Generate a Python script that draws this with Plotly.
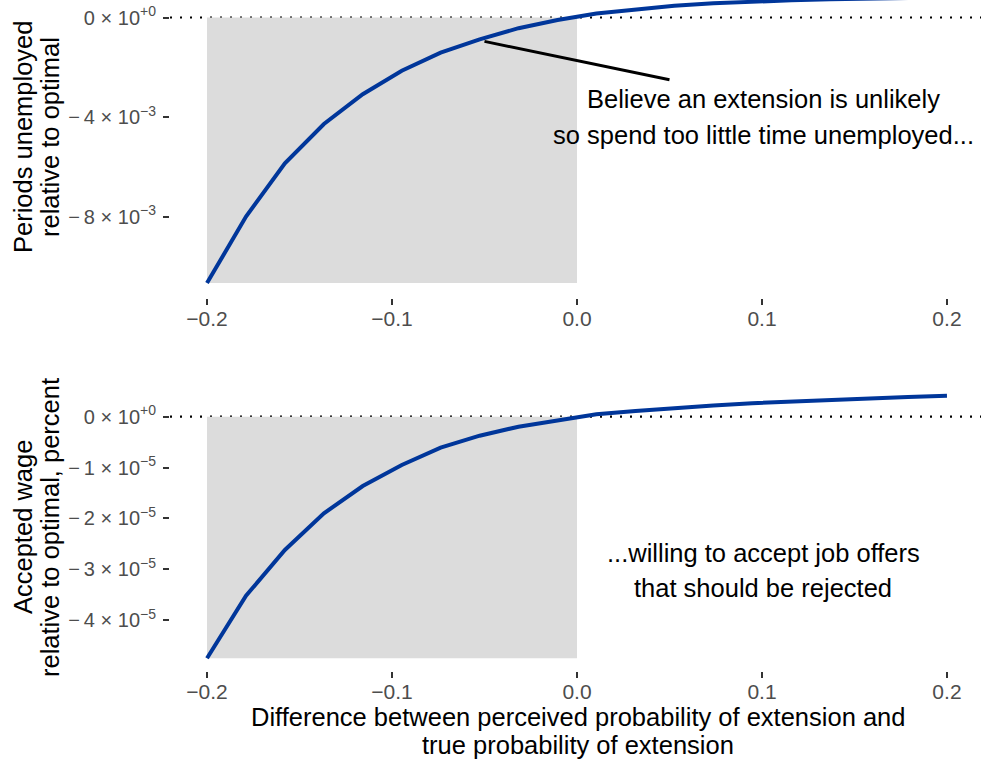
import plotly.graph_objects as go

# ---------------- data ----------------
belief_gap = [-0.2, -0.1789, -0.1579, -0.1368, -0.1158, -0.0947, -0.0737, -0.0526,
              -0.0316, -0.0105, 0.0105, 0.0316, 0.0526, 0.0737, 0.0947, 0.1158,
              0.1368, 0.1579, 0.1789, 0.2]
periods_unemployed = [-10.67e-3, -8.00e-3, -5.86e-3, -4.28e-3, -3.08e-3, -2.14e-3,
                      -1.41e-3, -0.88e-3, -0.43e-3, -0.10e-3, 0.16e-3, 0.32e-3,
                      0.47e-3, 0.57e-3, 0.64e-3, 0.69e-3, 0.73e-3, 0.76e-3,
                      0.79e-3, 0.81e-3]
accepted_wage = [-4.756e-5, -3.524e-5, -2.624e-5, -1.902e-5, -1.364e-5, -0.951e-5,
                 -0.610e-5, -0.374e-5, -0.197e-5, -0.065e-5, 0.05e-5, 0.11e-5,
                 0.17e-5, 0.22e-5, 0.265e-5, 0.30e-5, 0.33e-5, 0.36e-5,
                 0.39e-5, 0.41e-5]

x_ticks = [-0.2, -0.1, 0.0, 0.1, 0.2]
x_ticktext = ["\u22120.2", "\u22120.1", "0.0", "0.1", "0.2"]
top_ticks = [0, -0.004, -0.008]
top_ticktext = ["0 \u00d7 10<sup>+0</sup>", "\u2212\u20094 \u00d7 10<sup>\u22123</sup>",
                "\u2212\u20098 \u00d7 10<sup>\u22123</sup>"]
bot_ticks = [0, -1e-5, -2e-5, -3e-5, -4e-5]
bot_ticktext = ["0 \u00d7 10<sup>+0</sup>"] + [
    "\u2212\u2009%d \u00d7 10<sup>\u22125</sup>" % k for k in (1, 2, 3, 4)]

top_ylabel = ["Periods unemployed", "relative to optimal"]
bot_ylabel = ["Accepted wage", "relative to optimal, percent"]
x_label = ["Difference between perceived probability of extension and",
           "true probability of extension"]
top_note = ["Believe an extension is unlikely", "so spend too little time unemployed..."]
bot_note = ["...willing to accept job offers", "that should be rejected"]

# ---------------- layout constants ----------------
W, H = 981, 759
L, R, T, B = 170, 0, 0, 0
PW = W - L - R
FONT = "Liberation Sans, Arial, sans-serif"
LINE_COLOR = "#00369a"
SHADE = "#dcdcdc"
TXT = 25.5


def px2x(px):
    return (px - L) / PW


def py2y(py):
    return 1 - py / H


fig = go.Figure()

# shaded regions (negative gap, from min up to zero)
for yax, vals in (("y", periods_unemployed), ("y2", accepted_wage)):
    xa = "x" if yax == "y" else "x2"
    x0, x1 = belief_gap[0], 0.0
    y0, y1 = min(vals), 0.0
    fig.add_trace(go.Scatter(x=[x0, x1, x1, x0, x0], y=[y0, y0, y1, y1, y0],
                             fill="toself", fillcolor=SHADE, mode="none",
                             hoverinfo="skip", showlegend=False,
                             xaxis=xa, yaxis=yax))

fig.add_trace(go.Scatter(x=belief_gap, y=periods_unemployed, mode="lines",
                         line=dict(color=LINE_COLOR, width=4),
                         showlegend=False, xaxis="x", yaxis="y"))
fig.add_trace(go.Scatter(x=belief_gap, y=accepted_wage, mode="lines",
                         line=dict(color=LINE_COLOR, width=4),
                         showlegend=False, xaxis="x2", yaxis="y2"))

# dotted zero lines
for xa, ya in (("x", "y"), ("x2", "y2")):
    fig.add_shape(type="line", xref=xa + " domain", yref=ya, x0=0, x1=1, y0=0, y1=0,
                  line=dict(color="black", width=2.2, dash="2px,8px"), layer="below")

# pointer line in the top panel
fig.add_shape(type="line", xref="x", yref="y", x0=-0.05, y0=-0.00096, x1=0.05, y1=-0.0025,
              line=dict(color="black", width=3))

xcommon = dict(range=[-0.22, 0.2184], tickvals=x_ticks, ticktext=x_ticktext,
               ticks="outside", ticklen=6, tickwidth=2, tickcolor="#333333",
               showgrid=False, zeroline=False, showline=False, ticklabelstandoff=-4,
               tickfont=dict(family=FONT, size=21, color="#4d4d4d"))
ycommon = dict(ticks="outside", ticklen=6, tickwidth=2, tickcolor="#333333",
               showgrid=False, zeroline=False, showline=False, ticklabelstandoff=3,
               tickfont=dict(family=FONT, size=20, color="#4d4d4d"))

fig.update_layout(
    width=W, height=H,
    margin=dict(l=L, r=R, t=T, b=B, autoexpand=False),
    plot_bgcolor="white", paper_bgcolor="white",
    font=dict(family=FONT, color="black"),
    xaxis=dict(**xcommon, domain=[0, 1], anchor="y", automargin=False),
    yaxis=dict(**ycommon, domain=[py2y(298), 1], anchor="x", automargin=False,
               range=[-11.27e-3, 0.703e-3], tickvals=top_ticks, ticktext=top_ticktext),
    xaxis2=dict(**xcommon, domain=[0, 1], anchor="y2", automargin=False),
    yaxis2=dict(**ycommon, domain=[py2y(671), py2y(382)], anchor="x2", automargin=False,
                range=[-5.006e-5, 0.683e-5], tickvals=bot_ticks, ticktext=bot_ticktext),
)

ann = []
# y-axis titles
for lines, cy in ((top_ylabel, 137), (bot_ylabel, 527)):
    for txt, cx in zip(lines, (23, 50)):
        ann.append(dict(text=txt, xref="paper", yref="paper", x=px2x(cx), y=py2y(cy),
                        xanchor="center", yanchor="middle", textangle=-90,
                        showarrow=False, font=dict(family=FONT, size=TXT, color="black")))
# x-axis title
for txt, cy in zip(x_label, (717, 745)):
    ann.append(dict(text=txt, xref="paper", yref="paper", x=px2x(578), y=py2y(cy),
                    xanchor="center", yanchor="middle", showarrow=False,
                    font=dict(family=FONT, size=TXT, color="black")))
# notes
for lines, ys in ((top_note, (99, 135)), (bot_note, (553, 588))):
    for txt, cy in zip(lines, ys):
        ann.append(dict(text=txt, xref="paper", yref="paper", x=px2x(763), y=py2y(cy),
                        xanchor="center", yanchor="middle", showarrow=False,
                        font=dict(family=FONT, size=TXT, color="black")))
fig.update_layout(annotations=ann)

fig.write_html("out.html", config={"displayModeBar": False},
               post_script="document.body.style.margin='0';document.body.style.overflow='hidden';")
